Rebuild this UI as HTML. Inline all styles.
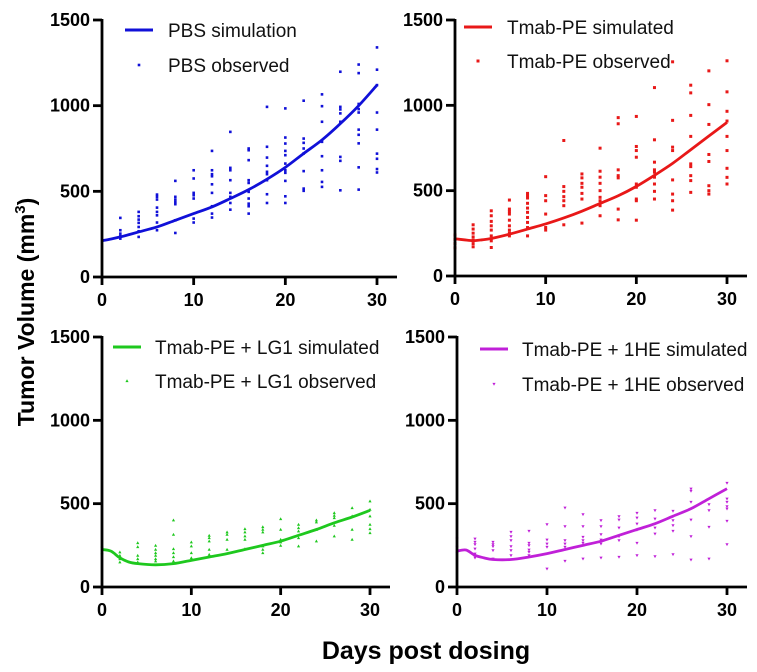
<!DOCTYPE html>
<html><head><meta charset="utf-8"><style>
body{margin:0;background:#fff;}
svg{display:block;font-family:"Liberation Sans",Arial,sans-serif;}
.tk{font-weight:bold;font-size:18px;fill:#000;}
.lg{font-size:19px;fill:#111;}
</style></head><body>
<svg id="c" width="757" height="672" viewBox="0 0 757 672" xmlns="http://www.w3.org/2000/svg">
<text transform="translate(34,312) rotate(-90)" text-anchor="middle" font-weight="bold" font-size="23">Tumor Volume  (mm<tspan font-size="15" dy="-9">3</tspan><tspan dy="9">)</tspan></text>
<text x="426" y="659" text-anchor="middle" font-weight="bold" font-size="25">Days post dosing</text>
</svg>
<script>
const xTicks=[0,10,20,30];
const yTicks=[0,500,1000,1500];
const obsDays=[0,2,4,6,8,10,12,14,16,18,20,22,24,26,28,30];
const simDays=[0,1,2,3,4,6,8,10,12,14,16,18,20,22,24,26,28,30];
// PBS
const pbsSim=[212,222,234,248,263,292,331,370,409,458,510,571,640,721,800,895,1000,1120];
const pbsObs=[[],[345,273,253,238,224],[380,355,335,316,292,267,234],[481,468,452,405,380,360,318,273],[561,468,452,438,425,331,257],[623,575,491,477,458,341,318],[736,623,600,588,541,491,413,370,347],[847,637,623,565,491,468,432,393],[750,740,682,565,549,497,458,428,413,370],[993,760,697,649,614,600,565,483,432],[984,814,779,736,711,662,623,608,561,471,432],[1029,808,783,750,721,618,516,503],[1066,997,906,789,705,623,555,526],[1198,993,978,955,906,701,678,506],[1240,1190,1010,980,960,860,830,780,640,510],[1340,1210,1120,960,860,720,690,630,610]];
// Tmab-PE
const tpeSim=[218,212,207,212,220,245,275,305,340,380,425,470,525,590,660,740,820,900];
const tpeObs=[[240,215,190,165],[300,275,251,229,210,190,171],[382,353,320,294,269,235,206,167],[445,392,378,363,327,294,269,251,235],[484,471,457,426,398,373,343,314,284,235],[582,471,441,363,284,269],[794,524,496,465,441,412,300],[598,575,543,520,484,451,310],[749,614,579,543,500,461,441,412,353],[928,892,622,588,575,392,329],[935,759,735,696,539,520,451,441,327],[1104,798,667,622,608,579,539,496,451],[1255,912,755,735,563,480,441,386],[1118,1073,941,818,657,641,588,559,490],[1202,1004,888,712,671,529,500,480],[1261,1079,965,908,818,735,631,578,539]];
// Tmab-PE + LG1
const lg1Sim=[225,215,175,150,140,133,140,160,180,200,225,250,275,310,345,385,420,460];
const lg1Obs=[[244,204],[208,188,168,148],[264,240,188,168,148],[248,224,204,188,168,154],[400,314,228,204,180,154],[268,244,204,174],[308,294,274,224,194],[328,314,284,224],[348,328,304,284,228],[360,344,328,244,224,204],[408,344,284,268,248],[374,354,334,294,244],[400,388,344,274],[444,428,414,368,304],[474,424,344,284],[514,464,424,374,348,324]];
// Tmab-PE + 1HE
const he1Sim=[215,222,190,175,165,165,180,200,225,250,275,310,345,380,425,470,530,590];
const he1Obs=[[290,240,204],[290,270,256,230,200,176],[270,256,244,220,170],[330,304,280,244,220,190],[336,264,250,224,210,190],[376,284,260,240,110],[476,364,280,260,240,156],[436,364,300,280,264,170],[400,364,316,284,260,176],[424,404,356,304,280,180],[444,416,380,344,264,190],[460,410,356,320,184],[456,400,370,336,196],[590,576,510,404,304,164],[496,460,360,170],[624,530,510,484,470,396,256]];

const NS="http://www.w3.org/2000/svg";
const svg=document.getElementById('c');
function mk(tag,attrs,parent){const e=document.createElementNS(NS,tag);for(const k in attrs)e.setAttribute(k,attrs[k]);(parent||svg).appendChild(e);return e;}

const panels=[
 {id:'pbs',x0:102,x30:377,y0:277,y1500:20,color:'#1010d8',sim:pbsSim,obs:pbsObs,marker:'dot',simLabel:'PBS simulation',obsLabel:'PBS observed',lx:125,ly:30,ltx:168,lgap:35},
 {id:'tmab-pe',x0:455,x30:727,y0:276,y1500:20,color:'#e81818',sim:tpeSim,obs:tpeObs,marker:'sq',simLabel:'Tmab-PE simulated',obsLabel:'Tmab-PE observed',lx:464,ly:27,ltx:507,lgap:34},
 {id:'lg1',x0:102,x30:370,y0:587,y1500:337,color:'#1ec81e',sim:lg1Sim,obs:lg1Obs,marker:'tri',simLabel:'Tmab-PE + LG1 simulated',obsLabel:'Tmab-PE + LG1 observed',lx:113,ly:347,ltx:155,lgap:34},
 {id:'1he',x0:457,x30:727,y0:587,y1500:337,color:'#c020d8',sim:he1Sim,obs:he1Obs,marker:'dtri',simLabel:'Tmab-PE + 1HE simulated',obsLabel:'Tmab-PE + 1HE observed',lx:480,ly:349,ltx:522,lgap:35}
];

function marker(g,type,cx,cy,color){
  let e;
  if(type==='dot'){e=mk('rect',{x:cx-1.3,y:cy-1.3,width:2.6,height:2.6,fill:color},g);}
  else if(type==='sq'){e=mk('rect',{x:cx-1.5,y:cy-1.5,width:3,height:3,fill:color},g);}
  else if(type==='tri'){e=mk('polygon',{points:`${cx},${cy-1.8} ${cx-1.6},${cy+1.1} ${cx+1.6},${cy+1.1}`,fill:color},g);}
  else {e=mk('polygon',{points:`${cx},${cy+1.8} ${cx-1.6},${cy-1.1} ${cx+1.6},${cy-1.1}`,fill:color},g);}
  return e;
}

panels.forEach(p=>{
  const sx=d=>p.x0+(p.x30-p.x0)*d/30;
  const sy=v=>p.y0-(p.y0-p.y1500)*v/1500;
  const g=mk('g',{});
  
  
  const og=mk('g',{},g);
  
  
  obsDays.forEach((d,i)=>{p.obs[i].forEach(v=>{
    const m=marker(og,p.marker,sx(d),sy(v),p.color);
    
    
  });});
  let pts=simDays.map((d,i)=>[sx(d),sy(p.sim[i])]);
  let dstr='M'+pts[0][0]+','+pts[0][1];
  for(let i=0;i<pts.length-1;i++){
    const p0=pts[Math.max(0,i-1)],p1=pts[i],p2=pts[i+1],p3=pts[Math.min(pts.length-1,i+2)];
    const c1=[p1[0]+(p2[0]-p0[0])/6,p1[1]+(p2[1]-p0[1])/6];
    const c2=[p2[0]-(p3[0]-p1[0])/6,p2[1]-(p3[1]-p1[1])/6];
    dstr+=` C${c1[0]},${c1[1]} ${c2[0]},${c2[1]} ${p2[0]},${p2[1]}`;
  }
  const line=mk('path',{d:dstr,fill:'none',stroke:p.color,'stroke-width':2.8},g);
  
  
  const ax=mk('g',{stroke:'#000','stroke-width':2.8,fill:'none'},g);
  
  
  mk('line',{x1:p.x0,y1:p.y1500-1,x2:p.x0,y2:p.y0},ax);
  mk('line',{x1:p.x0-1,y1:p.y0,x2:p.x30+20,y2:p.y0},ax);
  yTicks.forEach(t=>{
    mk('line',{x1:p.x0-9,y1:sy(t),x2:p.x0,y2:sy(t)},ax);
    const tx=mk('text',{x:p.x0-12,y:sy(t)+6,'text-anchor':'end',class:'tk'},g);
    tx.textContent=t;
    
    
  });
  xTicks.forEach(t=>{
    mk('line',{x1:sx(t),y1:p.y0,x2:sx(t),y2:p.y0+8},ax);
    const tx=mk('text',{x:sx(t),y:p.y0+29,'text-anchor':'middle',class:'tk'},g);
    tx.textContent=t;
    
    
  });
  const lg=mk('g',{},g);
  
  
  mk('line',{x1:p.lx,y1:p.ly,x2:p.lx+28,y2:p.ly,stroke:p.color,'stroke-width':3},lg);
  const t1=mk('text',{x:p.ltx,y:p.ly+7,class:'lg'},lg);
  t1.textContent=p.simLabel;
  
  
  marker(lg,p.marker,p.lx+14,p.ly+p.lgap,p.color);
  const t2=mk('text',{x:p.ltx,y:p.ly+p.lgap+7,class:'lg'},lg);
  t2.textContent=p.obsLabel;
  
  
});
</script>
</body></html>
